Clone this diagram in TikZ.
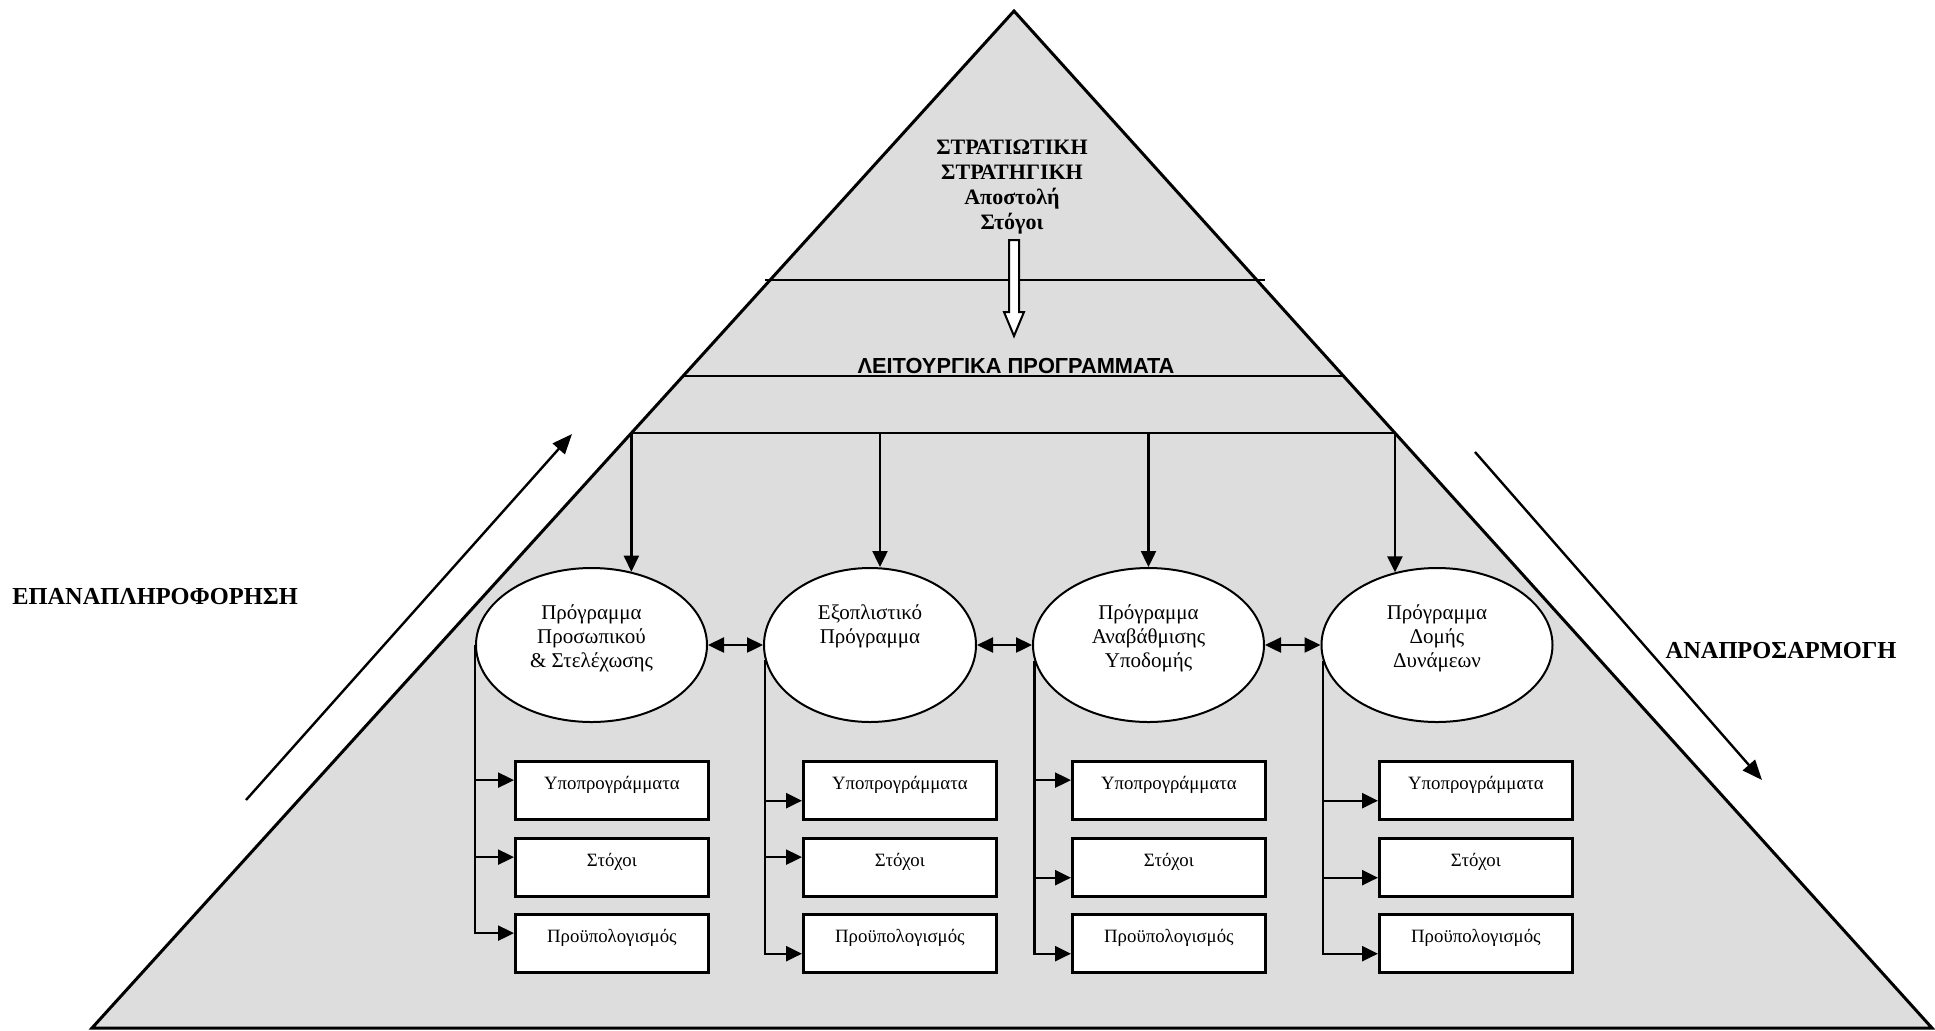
\documentclass[tikz,border=0pt]{standalone}
\usepackage{fontspec}
\setmainfont{Liberation Serif}
\newfontfamily\arialfont{Liberation Sans}
\usetikzlibrary{arrows.meta, shapes.geometric, calc}
\definecolor{pyrgray}{RGB}{221,221,221}

\begin{document}
\begin{tikzpicture}[x=0.5pt, y=-0.5pt, line width=1.2pt, >={Triangle[length=8pt, width=7.5pt]},
    prog/.style={ellipse, draw, fill=white, line width=1pt, minimum width=115.5pt, minimum height=77pt, inner sep=0pt},
    progtxt/.style={align=center, anchor=north, inner sep=0pt, font=\fontsize{10.5}{12}\selectfont},
    sub/.style={draw, fill=white, line width=1.4pt, anchor=north west, minimum width=96.5pt, minimum height=29pt,
        text height=6.5pt, text depth=7.5pt, font=\fontsize{9.4}{11}\selectfont},
    side/.style={font=\bfseries\fontsize{12.2}{14}\selectfont}]
    \useasboundingbox (0,0) rectangle (1935,1030);

    % pyramid and its levels
    \coordinate (top) at (1014,11);
    \coordinate (bl) at (92,1028);
    \coordinate (br) at (1932,1028);
    \draw[line width=1.5pt, fill=pyrgray] (top) -- (bl) -- (br) -- cycle;
    \coordinate (l2l) at ($(top)!0.3589!(bl)$);
    \coordinate (l2r) at ($(top)!0.3589!(br)$);
    \coordinate (l3l) at ($(top)!0.415!(bl)$);
    \coordinate (l3r) at ($(top)!0.415!(br)$);
    \draw (765,280) -- (1265,280);
    \draw (l2l) -- (l2r);
    \draw (l3l) -- (l3r);

    \node[align=center, anchor=north, inner sep=0pt, font=\bfseries\fontsize{11}{12.5}\selectfont] (strat) at (1012,139)
        {ΣΤΡΑΤΙΩΤΙΚΗ\\ΣΤΡΑΤΗΓΙΚΗ\\Αποστολή\\Στόγοι};
    \draw[line width=1pt, fill=white] (1009,240) -- (1019,240) -- (1019,312) -- (1024,312) -- (1014,336)
        -- (1004,312) -- (1009,312) -- cycle;
    \node[anchor=base, font=\arialfont\bfseries\fontsize{10.9}{12}\selectfont] (oper) at (1016,373) {ΛΕΙΤΟΥΡΓΙΚΑ ΠΡΟΓΡΑΜΜΑΤΑ};

    % programmes
    \node[prog] (pers) at (591.5,645) {};
    \node[prog, minimum width=106pt] (equip) at (870,645) {};
    \node[prog] (infra) at (1148.5,645) {};
    \node[prog] (forces) at (1437,645) {};
    \node[progtxt] (perst) at (591.5,603) {Πρόγραμμα\\Προσωπικού\\\& Στελέχωσης};
    \node[progtxt] (equipt) at (870,603) {Εξοπλιστικό\\Πρόγραμμα};
    \node[progtxt] (infrat) at (1148.5,603) {Πρόγραμμα\\Αναβάθμισης\\Υποδομής};
    \node[progtxt] (forcest) at (1437,603) {Πρόγραμμα\\Δομής\\Δυνάμεων};

    \coordinate (d2) at (880,433);
    \coordinate (d3) at (1148.5,433);
    \draw[->] (l3l) -- ([yshift=-2.35pt]l3l |- pers.north);
    \draw[->] (d2) -- (d2 |- equip.north);
    \draw[->] (d3) -- (infra.north);
    \draw[->] (l3r) -- ([yshift=-2.65pt]l3r |- forces.north);

    \draw[<->] (pers) -- (equip);
    \draw[<->] (equip) -- (infra);
    \draw[<->] (infra) -- (forces);

    % sub-boxes
    \foreach \p/\x in {pers/514, equip/802, infra/1071, forces/1378} {
        \node[sub] (\p1) at (\x,760) {Υποπρογράμματα};
        \node[sub] (\p2) at (\x,837) {Στόχοι};
        \node[sub] (\p3) at (\x,913) {Προϋπολογισμός};
    }
    \foreach \p/\a/\b/\c/\s in {pers/174/174/174/west, equip/186/174/186/188, infra/174/186/186/188, forces/186/186/186/188} {
        \draw[->] (\p.\s) |- (\p3.\c);
        \draw[->] (\p.\s |- \p1.\a) -- (\p1.\a);
        \draw[->] (\p.\s |- \p2.\b) -- (\p2.\b);
    }

    % feedback and adjustment
    \coordinate (fb0) at (246,800);
    \coordinate (fb1) at (572,434);
    \coordinate (ad0) at (1475,452);
    \coordinate (ad1) at (1762,780);
    \draw[->, >={Triangle[length=10pt, width=8pt]}] (fb0) -- (fb1);
    \draw[->, >={Triangle[length=10pt, width=8pt]}] (ad0) -- (ad1);
    \node[side] (feedback) at (155,597) {ΕΠΑΝΑΠΛΗΡΟΦΟΡΗΣΗ};
    \node[side] (adjust) at (1781,651) {ΑΝΑΠΡΟΣΑΡΜΟΓΗ};
\end{tikzpicture}
\end{document}
